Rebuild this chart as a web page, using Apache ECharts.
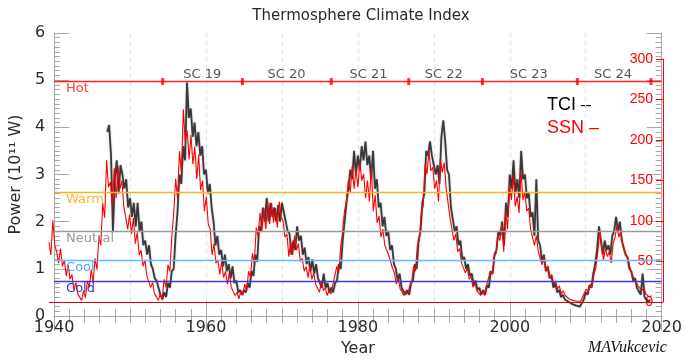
<!DOCTYPE html>
<html><head><meta charset="utf-8">
<script src="https://cdn.jsdelivr.net/npm/echarts@6/dist/echarts.min.js"></script>
<style>html,body{margin:0;padding:0;background:#fff}#c{width:685px;height:363px}</style>
</head><body><div id="c"></div>
<script>
// ---- data ----
const ssnStart = 1940.0;
const tciStart = 1947.0;
const stepYears = 0.25;
const ssnValues = [
 74,58,101,70, 62,48,66,44, 52,32,46,28, 34,14,24,10, 8,2,14,5, 26,18,40,24, 54,40,82,70,
 122,104,175,142, 148,118,165,128, 168,140,150,118, 120,90,108,84, 104,72,86,58, 64,44,52,32,
 30,18,24,10, 6,2,10,4, 28,18,46,38, 80,110,152,128, 186,160,238,198, 212,176,206,170,
 192,152,182,138, 150,112,130,96, 90,58,72,48, 52,34,50,30, 38,22,36,18, 20,8,12,4,
 14,8,22,14, 38,30,60,48, 92,80,110,88, 116,90,124,96, 122,98,116,92, 124,104,100,80,
 84,56,74,58, 82,64,72,50, 54,38,44,30, 46,28,36,22, 24,12,26,14, 18,8,14,10,
 22,20,44,36, 68,86,112,124, 150,136,168,140, 164,142,172,150, 158,128,150,124, 166,112,132,98,
 106,80,90,70, 72,58,60,42, 36,22,30,16, 18,8,14,10, 20,24,44,38, 70,76,110,118,
 170,158,186,162, 166,140,150,124, 176,160,172,140, 142,104,104,76, 84,62,66,48, 50,36,42,28,
 32,18,24,14, 16,8,14,8, 20,18,38,34, 56,60,82,76, 96,62,112,90, 146,126,156,118,
 130,110,162,126, 136,112,116,90, 92,70,82,62, 64,46,54,38, 44,30,34,22, 26,16,20,10,
 14,8,10,4, 6,2,4,1, 2,1,6,8, 16,12,22,18, 34,42,62,88, 70,52,66,56,
 62,48,72,80, 94,80,88,70, 70,56,52,40, 38,28,30,20, 22,14,18,10, 12,6,8
];
const tciValues = [
 3.9,4.05,3.4,1.8, 2.9,3.3,2.6,3.2, 3.0,2.7,2.9,2.3, 2.5,2.1,2.4,1.9, 2.4,1.8,2.0,1.5,
 1.6,1.3,1.5,1.1, 1.0,0.8,0.75,0.6, 0.45,0.35,0.5,0.4, 0.7,0.6,0.95,1.0, 1.7,2.2,3.0,2.8,
 3.6,3.3,4.95,4.2, 4.4,3.8,4.1,3.6, 3.9,3.4,3.6,3.0, 3.1,2.6,2.8,2.3, 2.0,1.5,1.7,1.3,
 1.4,1.05,1.3,0.95, 1.1,0.8,1.05,0.7, 0.75,0.5,0.55,0.45, 0.55,0.5,0.7,0.6, 0.95,0.85,1.3,1.15,
 1.9,1.8,2.3,2.0, 2.5,2.0,2.4,2.1, 2.3,2.0,2.35,2.0, 2.4,2.2,2.0,1.8, 1.75,1.3,1.6,1.4,
 1.9,1.6,1.7,1.3, 1.45,1.1,1.25,0.95, 1.2,0.9,1.1,0.8, 0.8,0.6,0.9,0.6, 0.7,0.5,0.6,0.5,
 0.7,0.75,1.1,1.0, 1.6,2.0,2.4,2.7, 3.1,2.9,3.5,3.0, 3.4,3.1,3.6,3.3, 3.7,3.2,3.4,2.9,
 3.5,2.7,2.9,2.3, 2.4,1.9,2.1,1.7, 1.8,1.4,1.5,1.1, 1.0,0.75,0.9,0.6, 0.6,0.45,0.55,0.45,
 0.7,0.75,1.1,1.0, 1.6,1.8,2.4,2.6, 3.5,3.4,3.7,3.4, 3.4,3.0,3.2,2.8, 3.8,4.15,3.7,3.1,
 3.0,2.3,2.3,1.8, 1.9,1.5,1.6,1.2, 1.25,1.0,1.1,0.85, 0.9,0.65,0.75,0.55, 0.6,0.45,0.55,0.45,
 0.65,0.6,0.95,0.9, 1.3,1.4,1.8,1.7, 2.0,1.5,2.4,2.1, 3.0,2.7,3.3,2.6, 2.9,2.5,3.5,2.9,
 3.0,2.5,2.6,2.1, 2.2,1.7,2.9,1.6, 1.5,1.15,1.3,0.95, 1.05,0.8,0.85,0.6, 0.7,0.5,0.55,0.4,
 0.45,0.35,0.35,0.3, 0.3,0.25,0.28,0.22, 0.22,0.2,0.28,0.35, 0.5,0.45,0.65,0.6, 0.9,1.1,1.4,1.9,
 1.6,1.3,1.6,1.4, 1.5,1.3,1.7,1.8, 2.1,1.8,2.0,1.6, 1.6,1.3,1.25,1.0, 0.95,0.75,0.8,0.6,
 0.6,0.45,0.9,0.4, 0.4,0.3,0.35
];
const levelNames = ['Hot', 'Warm', 'Neutral', 'Cool', 'Cold'];
const levelValues = [4.97, 2.63, 1.80, 1.19, 0.74];
const levelColors = ['#ff2020', '#ffb020', '#9a9a9a', '#66b8ff', '#3c3cd2'];
const labelColors = ['#ff3a3a', '#ffb030', '#999999', '#4aa8ff', '#3535d0'];
const cycleNames = ['SC 19', 'SC 20', 'SC 21', 'SC 22', 'SC 23', 'SC 24'];
const cycleCenters = [1959.5, 1970.6, 1981.4, 1991.3, 2002.5, 2013.6];
const cycleMinima = [1954.3, 1964.8, 1976.5, 1986.7, 1996.4, 2008.9, 2018.6];
const yearMin = 1940, yearMax = 2020, yearStep = 20;
const powerMin = 0, powerMax = 6, powerStep = 1;
const ssnMin = 0, ssnMax = 300, ssnStep = 50;
const hotLevel = levelValues[0];

// ---- chart ----
const chart = echarts.init(document.getElementById('c'), null, {renderer: 'canvas'});
const dj = 'DejaVu Sans';
const lib = 'Liberation Sans';
const gridCol = '#a8a8a8';
const plain = v => String(v);

const ssnData = ssnValues.map((v, i) => [ssnStart + i * stepYears, v]);
const tciData = tciValues.map((v, i) => [tciStart + i * stepYears, v]);

const levelSeries = levelValues.map((v, i) => ({
  type: 'line', xAxisIndex: 0, yAxisIndex: 0, data: [], z: 1, silent: true,
  markLine: {
    silent: true, symbol: 'none', animation: false,
    lineStyle: {color: levelColors[i], width: 1.3, type: 'solid', opacity: 1},
    label: {show: true, formatter: levelNames[i], position: 'insideStartBottom',
            distance: [12, 1], color: labelColors[i], fontFamily: dj, fontSize: 13},
    data: [{yAxis: v}]
  }
}));

const option = {
  animation: false,
  backgroundColor: '#fff',
  title: {
    text: 'Thermosphere Climate Index', left: 356, top: 4, textAlign: 'center',
    textStyle: {fontFamily: dj, fontSize: 15, fontWeight: 'normal', color: '#2a2a2a'}
  },
  grid: [
    {left: 49, right: 22, top: 33, bottom: 47, show: false},
    {left: 49, right: 22, top: 59, bottom: 61, show: false}
  ],
  xAxis: [
    {gridIndex: 0, type: 'value', min: yearMin, max: yearMax, interval: yearStep, position: 'bottom',
     name: 'Year', nameLocation: 'middle', nameGap: 23,
     nameTextStyle: {fontFamily: dj, fontSize: 16, color: '#2a2a2a'},
     axisLine: {show: true, lineStyle: {color: gridCol, width: 1}},
     axisTick: {show: true, inside: true, length: 15, lineStyle: {color: gridCol}},
     minorTick: {show: true, splitNumber: 10, length: 7, lineStyle: {color: gridCol}},
     axisLabel: {fontFamily: dj, fontSize: 16, color: '#2a2a2a', margin: 4, formatter: plain},
     splitLine: {show: false}},
    {gridIndex: 0, type: 'value', min: yearMin, max: yearMax, interval: yearStep, position: 'top',
     axisLine: {show: true, lineStyle: {color: gridCol, width: 1}},
     axisTick: {show: true, inside: true, length: 15, lineStyle: {color: gridCol}},
     minorTick: {show: true, splitNumber: 10, length: 7, lineStyle: {color: gridCol}},
     axisLabel: {show: false}, splitLine: {show: false}},
    {gridIndex: 0, type: 'value', min: yearMin, max: yearMax, interval: 10, position: 'bottom', offset: 0,
     axisLine: {show: false}, axisTick: {show: false}, axisLabel: {show: false},
     splitLine: {show: true, lineStyle: {color: '#e0e0e0', type: [4, 4], width: 1}}},
    {gridIndex: 1, type: 'value', min: yearMin, max: yearMax, show: false}
  ],
  yAxis: [
    {gridIndex: 0, type: 'value', min: powerMin, max: powerMax, interval: powerStep, position: 'left',
     name: 'Power (10¹¹ W)', nameLocation: 'middle', nameGap: 27, nameRotate: 90,
     nameTextStyle: {fontFamily: dj, fontSize: 16, color: '#2a2a2a'},
     axisLine: {show: true, lineStyle: {color: gridCol}},
     axisTick: {show: true, inside: true, length: 15, lineStyle: {color: gridCol}},
     minorTick: {show: true, splitNumber: 10, length: 6, lineStyle: {color: gridCol}},
     axisLabel: {fontFamily: dj, fontSize: 16, color: '#2a2a2a', margin: 9, formatter: plain},
     splitLine: {show: false}},
    {gridIndex: 0, type: 'value', min: powerMin, max: powerMax, interval: powerStep, position: 'right',
     axisLine: {show: true, lineStyle: {color: gridCol}},
     axisTick: {show: true, inside: true, length: 15, lineStyle: {color: gridCol}},
     minorTick: {show: true, splitNumber: 10, length: 6, lineStyle: {color: gridCol}},
     axisLabel: {show: false}, splitLine: {show: false}},
    {gridIndex: 1, type: 'value', min: ssnMin, max: ssnMax, interval: ssnStep, position: 'right',
     axisLine: {show: true, lineStyle: {color: '#ff0000', width: 1}},
     axisTick: {show: true, inside: true, length: 7, lineStyle: {color: '#ff0000'}},
     axisLabel: {inside: true, fontFamily: lib, fontSize: 14, color: '#ff0000', margin: 10, formatter: plain},
     splitLine: {show: false}}
  ],
  series: levelSeries.concat([
    {
      type: 'line', name: 'TCI', xAxisIndex: 0, yAxisIndex: 0, data: tciData,
      showSymbol: false, symbol: 'none', z: 3,
      lineStyle: {color: '#262626', width: 1.8, opacity: 0.88,
                  shadowBlur: 2, shadowColor: 'rgba(0,0,0,0.35)'}
    },
    {
      type: 'line', name: 'SSN', xAxisIndex: 3, yAxisIndex: 2, data: ssnData,
      showSymbol: false, symbol: 'none', z: 4,
      lineStyle: {color: '#ff0000', width: 1.1},
      markLine: {
        silent: true, symbol: 'none', animation: false,
        lineStyle: {color: '#e00000', width: 1.2, type: 'solid'}, label: {show: false},
        data: [{yAxis: 0}]
      }
    },
    {
      type: 'scatter', xAxisIndex: 0, yAxisIndex: 0, z: 5,
      data: cycleMinima.map(y => [y, hotLevel]),
      symbol: 'rect', symbolSize: [3, 7], itemStyle: {color: '#ff0000'}
    },
    {
      type: 'scatter', xAxisIndex: 0, yAxisIndex: 0, z: 5,
      data: cycleCenters.map((y, i) => ({value: [y, hotLevel], name: cycleNames[i]})),
      symbolSize: 0,
      label: {show: true, position: 'top', distance: 0, formatter: p => p.name,
              fontFamily: dj, fontSize: 13, color: '#2a2a2a'}
    }
  ]),
  graphic: [
    {type: 'text', left: 547, top: 96, style: {text: 'TCI –', fontFamily: lib, fontSize: 18, fill: '#000'}},
    {type: 'text', left: 547, top: 119, style: {text: 'SSN –', fontFamily: lib, fontSize: 18, fill: '#ff0000'}},
    {type: 'text', left: 588, top: 340, style: {text: 'MAVukcevic', fontFamily: 'Liberation Serif', fontStyle: 'italic', fontSize: 16, fill: '#111'}}
  ]
};
chart.setOption(option);
</script>
</body></html>
